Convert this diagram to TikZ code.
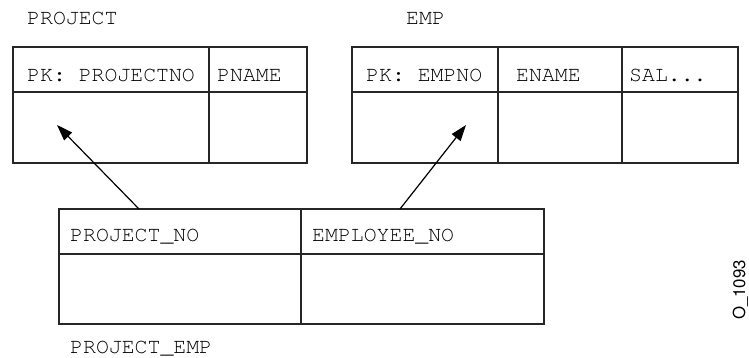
\documentclass[tikz,border=0pt]{standalone}
\usepackage[T1]{fontenc}
\usepackage{courier}
\usepackage{helvet}
\usetikzlibrary{arrows.meta}
\tikzset{
  lbl/.style={font=\fontsize{21.5}{26}\selectfont\ttfamily, anchor=base west, inner sep=0pt},
  tbl/.style={line width=1.6pt, draw=black!85},
  fk/.style={line width=1.2pt, -{Triangle[length=16pt,width=11pt]}},
}
\begin{document}
\begin{tikzpicture}[x=1pt,y=-1pt]
	\useasboundingbox (0,0) rectangle (749,358);
	%PROJECT
	\draw[tbl] (13,47) rectangle (307,163);
	\draw[tbl] (13,92) -- (307,92);
	\draw[tbl] (209,47) -- (209,163);
	\node[lbl] (project) at (27,25) {PROJECT};
	\node[lbl] (projectno) at (27,82) {PK: PROJECTNO};
	\node[lbl] (pname) at (217,82) {PNAME};
	\coordinate (projectno-in) at (57,125);
	
	%EMP
	\draw[tbl] (352,47) rectangle (738,163);
	\draw[tbl] (352,92) -- (738,92);
	\draw[tbl] (498,47) -- (498,163);
	\draw[tbl] (622,47) -- (622,163);
	\node[lbl] (emp) at (406,25) {EMP};
	\node[lbl] (empno) at (366,82) {PK: EMPNO};
	\node[lbl] (ename) at (516,82) {ENAME};
	\node[lbl] (sal) at (629,82) {SAL...};
	\coordinate (empno-in) at (466,125);
	
	%PROJECT_EMP
	\draw[tbl] (59,209) rectangle (544,324);
	\draw[tbl] (59,254) -- (544,254);
	\draw[tbl] (301,209) -- (301,324);
	\node[lbl] (projectemp) at (70,353) {PROJECT\_EMP};
	\node[lbl] (pe-project) at (70,241) {PROJECT\_NO};
	\node[lbl] (pe-employee) at (312,241) {EMPLOYEE\_NO};
	\coordinate (pe-project-top) at (139,209);
	\coordinate (pe-employee-top) at (400,209);
	
	%FOREIGN KEYS
	\draw[fk] (pe-project-top) -- (projectno-in);
	\draw[fk] (pe-employee-top) -- (empno-in);
	
	\node[rotate=90, anchor=base west, inner sep=0pt, font=\fontsize{16.8}{20}\selectfont\sffamily] (fignum) at (745,320) {O\_1093};
\end{tikzpicture}
\end{document}
